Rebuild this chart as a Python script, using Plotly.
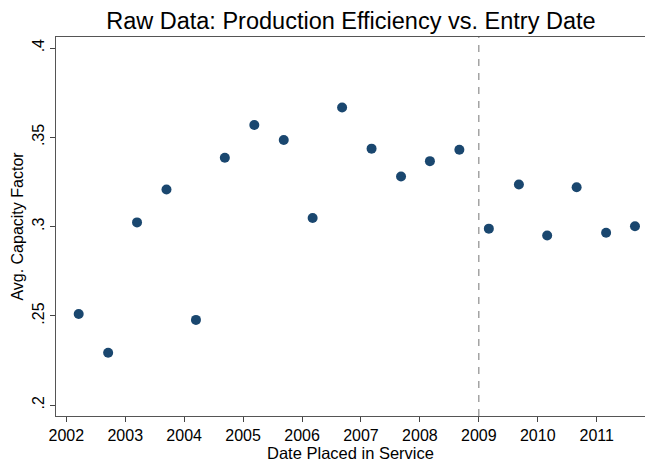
import plotly.graph_objects as go

# entry date (decimal year) and average capacity factor
entry_date = [2002.21, 2002.71, 2003.20, 2003.70, 2004.20, 2004.69, 2005.19, 2005.69,
              2006.18, 2006.68, 2007.18, 2007.68, 2008.17, 2008.67, 2009.17, 2009.68,
              2010.16, 2010.66, 2011.16, 2011.65]
capacity_factor = [0.2511, 0.2294, 0.3024, 0.3208, 0.2478, 0.3386, 0.3569, 0.3485,
                   0.3049, 0.3667, 0.3437, 0.3281, 0.3367, 0.3431, 0.2989, 0.3236,
                   0.2951, 0.3221, 0.2966, 0.3002]
cutoff_year = 2009
x_ticks = list(range(2002, 2012))
y_ticks = [0.2, 0.25, 0.3, 0.35, 0.4]
y_tick_labels = ['.2', '.25', '.3', '.35', '.4']

font = 'Liberation Sans, Arial, Helvetica, sans-serif'

fig = go.Figure(go.Scatter(x=entry_date, y=capacity_factor, mode='markers',
                           marker=dict(color='#1a476f', size=10, line=dict(width=0)),
                           cliponaxis=False, showlegend=False))

fig.add_vline(x=cutoff_year, line=dict(color='#8c8c8c', width=1.2, dash='7px,7px'))

fig.update_layout(width=645, height=469,
                  margin=dict(l=56, r=0, t=37, b=53, autoexpand=False),
                  paper_bgcolor='white', plot_bgcolor='white',
                  font=dict(family=font, color='black', size=16),
                  title=dict(text='Raw Data: Production Efficiency vs. Entry Date',
                             x=0.544, xanchor='center', y=0.955, yanchor='middle',
                             font=dict(size=23.5)))

fig.update_xaxes(range=[2001.825, 2011.82], tickvals=x_ticks, automargin=False,
                 ticks='outside', ticklen=5, tickcolor='#444', tickwidth=1,
                 showline=True, linecolor='#555', linewidth=1, mirror=True,
                 showgrid=False, zeroline=False,
                 title=dict(text='Date Placed in Service', standoff=4, font=dict(size=16.5)),
                 tickfont=dict(size=16))
fig.update_yaxes(range=[0.194, 0.4062], tickvals=y_ticks, ticktext=y_tick_labels,
                 tickangle=-90, automargin=False,
                 ticks='outside', ticklen=5, tickcolor='#444', tickwidth=1,
                 showline=True, linecolor='#555', linewidth=1,
                 showgrid=False, zeroline=False,
                 title=dict(text='Avg. Capacity Factor', standoff=1, font=dict(size=16)),
                 tickfont=dict(size=16))

fig.write_html("out.html", config={'displayModeBar': False},
               post_script="document.body.style.margin='0';")
